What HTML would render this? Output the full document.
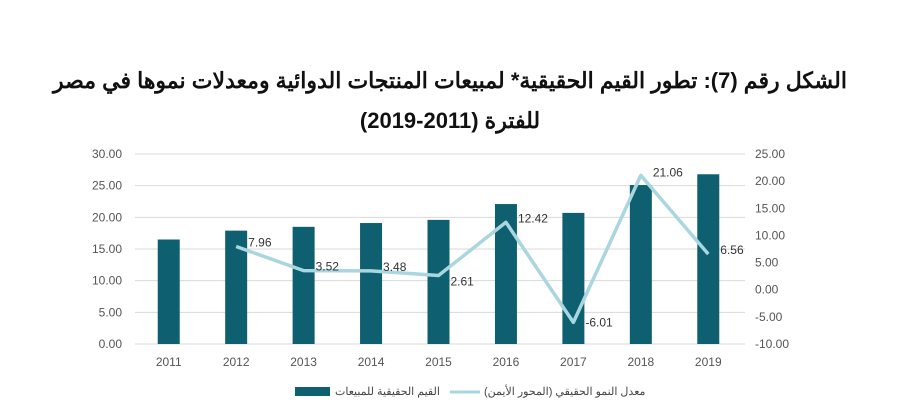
<!DOCTYPE html>
<html><head><meta charset="utf-8"><style>
body{margin:0;background:#fff;width:897px;height:408px;overflow:hidden;font-family:"Liberation Sans","Noto Sans CJK SC",sans-serif}
</style></head><body>
<svg width="897" height="408" xmlns="http://www.w3.org/2000/svg">
<text x="450" y="88" text-anchor="middle" font-weight="bold" font-size="22" fill="#111" direction="rtl">الشكل رقم (7): تطور القيم الحقيقية* لمبيعات المنتجات الدوائية ومعدلات نموها في مصر</text>
<text x="450" y="128" text-anchor="middle" font-weight="bold" font-size="22" fill="#111" direction="rtl">للفترة (2011-2019)</text>
<g id="grid"></g><g id="bars"></g><g id="line"></g><g id="labels"></g>
<rect x="295" y="387" width="35" height="9" fill="#0e5f6f"/>
<text x="335" y="395" font-size="11" fill="#444">القيم الحقيقية للمبيعات</text>
<line x1="450" y1="392" x2="480" y2="392" stroke="#a9d6df" stroke-width="3"/>
<text x="484" y="395" font-size="11" fill="#444">معدل النمو الحقيقي (المحور الأيمن)</text>
</svg>
<script>
const categories=["2011","2012","2013","2014","2015","2016","2017","2018","2019"];
const salesValues=[16.5,17.9,18.5,19.1,19.6,22.1,20.7,25.1,26.8];
const growthValues=[null,7.96,3.52,3.48,2.61,12.42,-6.01,21.06,6.56];
const leftTicks=[0,5,10,15,20,25,30];
const rightTicks=[-10,-5,0,5,10,15,20,25];
const NS="http://www.w3.org/2000/svg";
const x0=135,x1=742,yb=344,yt=154;
const step=(x1-x0)/categories.length;
const xc=i=>x0+step*(i+0.5);
const yL=v=>yb-(v-0)/30*(yb-yt);
const yR=v=>yb-(v+10)/35*(yb-yt);
function mk(tag,attrs,parent,txt){const e=document.createElementNS(NS,tag);for(const k in attrs)e.setAttribute(k,attrs[k]);if(txt!=null)e.textContent=txt;parent.appendChild(e);return e;}
const g=document.getElementById('grid');
leftTicks.forEach(v=>{
 const l=mk('line',{x1:x0,x2:x1+3,y1:yL(v),y2:yL(v),stroke:'#d9d9d9','stroke-width':1},g);
 
 
 const t=mk('text',{x:122,y:yL(v)+4,'text-anchor':'end','font-size':12,fill:'#555'},g,v.toFixed(2));
 
 
});
rightTicks.forEach(v=>{
 const t=mk('text',{x:755,y:yR(v)+4,'font-size':12,fill:'#555'},g,v.toFixed(2));
 
 
});
categories.forEach((c,i)=>{
 const t=mk('text',{x:xc(i),y:366,'text-anchor':'middle','font-size':12,fill:'#555'},g,c);
 
 
});
const b=document.getElementById('bars');
salesValues.forEach((v,i)=>{
 const r=mk('rect',{x:xc(i)-11,y:yL(v),width:22,height:yb-yL(v),fill:'#0e5f6f'},b);
 
 
});
const pts=[];growthValues.forEach((v,i)=>{if(v!=null)pts.push(xc(i)+','+yR(v));});
const pl=mk('polyline',{points:pts.join(' '),fill:'none',stroke:'#a9d6df','stroke-width':3.5,'stroke-linejoin':'round'},document.getElementById('line'));


const lb=document.getElementById('labels');
growthValues.forEach((v,i)=>{
 if(v==null)return;
 const t=mk('text',{x:xc(i)+12,y:yR(v)+(v<0?4:(i==4?10:(i==7?1:0))),'font-size':12,fill:'#333'},lb,v.toFixed(2));
 
 
});
</script>
</body></html>
